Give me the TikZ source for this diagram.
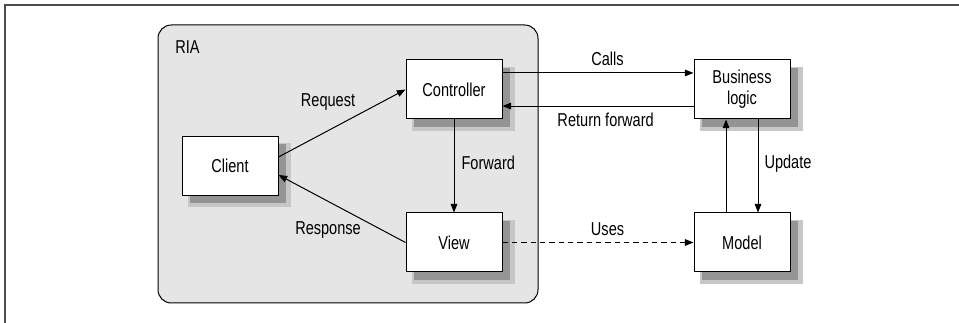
\documentclass[tikz,border=0pt]{standalone}
\usepackage{fontspec}
\setmainfont{Liberation Sans}[FakeStretch=0.78]
\usetikzlibrary{arrows.meta,shadows,positioning}

\begin{document}
\begin{tikzpicture} [
			x=0.75pt, y=-0.75pt,
			font=\fontsize{14}{16}\selectfont,
			box/.style={rectangle, draw, line width=0.75pt, fill=white,
				minimum width=72pt, minimum height=44.25pt, inner sep=0pt, align=center,
				drop shadow={shadow xshift=6.5pt, shadow yshift=-6.5pt, shadow scale=1.08, fill=black!22, opacity=1},
				drop shadow={shadow xshift=6pt, shadow yshift=-6pt, fill=black!42, opacity=1}},
			ria/.style={rectangle, draw, line width=0.75pt, fill=black!10, rounded corners=10pt,
				minimum width=285pt, minimum height=208.5pt},
			arrow/.style={line width=0.75pt, -{Triangle[length=6.5pt, width=5pt]}},
			lbl/.style={inner sep=0pt}
		]
		\useasboundingbox (0,0) rectangle (959,323);
		\draw [black!70, line width=1.2pt] (5,323) -- (5,5) -- (959,5);

		\node at (348,164) [ria] (ria) {};
		\node at (175,47)  [lbl, anchor=west] (rialbl) {RIA};

		\node at (230,166)   [box] (client) {Client};
		\node at (454,89.5)  [box] (ctrl)   {Controller};
		\node at (454,242.5) [box] (view)   {View};
		\node at (742,89.5)  [box] (logic)  {Business\\logic};
		\node at (742,242.5) [box] (model)  {Model};

		\draw [arrow] ([yshift=6.75pt]client.east) -- (ctrl.west)
			node[lbl, pos=0.39, above=14.8pt] {Request};
		\draw [arrow] (view.west) -- ([yshift=-6.75pt]client.east)
			node[lbl, pos=0.61, below=14.8pt] {Response};
		\draw [arrow] (ctrl) -- (view) node[lbl, pos=0.47, right=5.3pt] {Forward};
		\draw [arrow] ([yshift=12.4pt]ctrl.east) -- ([yshift=12.4pt]logic.west)
			node[lbl, pos=0.55, above=5.2pt] {Calls};
		\draw [arrow] ([yshift=-12.4pt]logic.west) -- ([yshift=-12.4pt]ctrl.east)
			node[lbl, pos=0.46, below=4.5pt] {Return forward};
		\draw [arrow, dash pattern=on 4pt off 3pt] (view) -- (model)
			node[lbl, pos=0.55, above=4.8pt] {Uses};
		\draw [arrow] ([xshift=-12pt]model.north) -- ([xshift=-12pt]logic.south);
		\draw [arrow] ([xshift=12pt]logic.south) -- ([xshift=12pt]model.north)
			node[lbl, pos=0.47, right=4.5pt] {Update};
	\end{tikzpicture}
\end{document}
